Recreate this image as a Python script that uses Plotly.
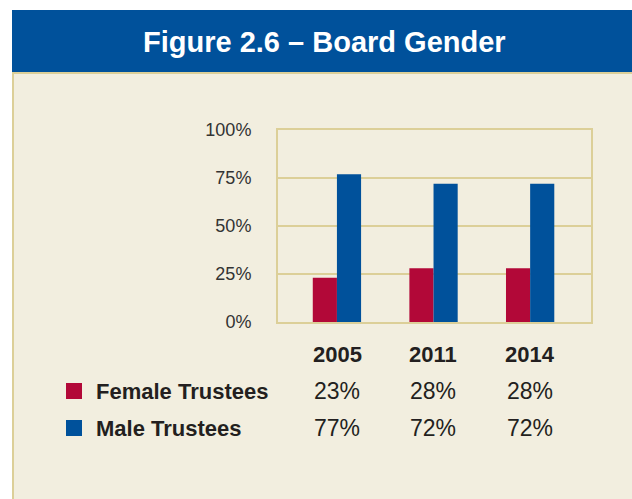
import plotly.graph_objects as go

# ---- data ----
years = ["2005", "2011", "2014"]
female = [23, 28, 28]
male = [77, 72, 72]
series_names = ["Female Trustees", "Male Trustees"]
y_ticks = [0, 25, 50, 75, 100]
y_tick_labels = ["0%", "25%", "50%", "75%", "100%"]
title_text = "Figure 2.6 – Board Gender"

# ---- styling ----
W, H = 632, 499
L, R, T, B = 278, 591, 130, 322  # plot area in pixels
BLUE = "#00519b"
RED = "#b20838"
BEIGE = "#f2eedf"
TAN = "#dccf98"
TEXT = "#231f20"
FONT = "Liberation Sans, Arial, sans-serif"


def fx(p):
    return (p - L) / (R - L)


def fy(p):
    return (B - p) / (B - T)


fig = go.Figure()
fig.add_trace(go.Bar(x=years, y=female, name=series_names[0], marker_color=RED,
                     marker_line_width=0))
fig.add_trace(go.Bar(x=years, y=male, name=series_names[1], marker_color=BLUE,
                     marker_line_width=0))

shapes = [
    # beige panel
    dict(type="rect", xref="paper", yref="paper", x0=fx(12), x1=fx(W + 5), y0=fy(72), y1=fy(H + 5),
         fillcolor=BEIGE, line_width=0, layer="below"),
    # left tan border
    dict(type="line", xref="paper", yref="paper", x0=fx(13), x1=fx(13), y0=fy(72), y1=fy(H + 5),
         line=dict(color=TAN, width=2), layer="below"),
    # tan line under header
    dict(type="line", xref="paper", yref="paper", x0=fx(12), x1=fx(W + 5), y0=fy(73), y1=fy(73),
         line=dict(color=TAN, width=2), layer="below"),
    # blue header
    dict(type="rect", xref="paper", yref="paper", x0=fx(12), x1=fx(W + 5), y0=fy(10), y1=fy(72),
         fillcolor=BLUE, line_width=0, layer="below"),
]

annotations = [
    dict(text="<b>" + title_text + "</b>", xref="paper", yref="paper", x=fx(324), y=fy(42),
         xanchor="center", yanchor="middle", showarrow=False,
         font=dict(family=FONT, size=29, color="white")),
]

# table (columns aligned with the bar groups)
col_x = [337, 433, 530]
row_header_y = 354
row_y = [391, 428]
colors = [RED, BLUE]
values = [female, male]
for i, yr in enumerate(years):
    annotations.append(dict(text="<b>" + yr + "</b>", xref="paper", yref="paper",
                            x=fx(col_x[i]), y=fy(row_header_y), xanchor="center", yanchor="middle",
                            showarrow=False, font=dict(family=FONT, size=22, color=TEXT)))
for r, name in enumerate(series_names):
    shapes.append(dict(type="rect", xref="paper", yref="paper",
                       x0=fx(66), x1=fx(82), y0=fy(row_y[r] - 8), y1=fy(row_y[r] + 8),
                       fillcolor=colors[r], line_width=0))
    annotations.append(dict(text="<b>" + name + "</b>", xref="paper", yref="paper",
                            x=fx(94), y=fy(row_y[r]), xanchor="left", yanchor="middle",
                            showarrow=False, font=dict(family=FONT, size=22, color=TEXT)))
    for i, v in enumerate(values[r]):
        annotations.append(dict(text=f"{v}%", xref="paper", yref="paper",
                                x=fx(col_x[i]), y=fy(row_y[r]), xanchor="center", yanchor="middle",
                                showarrow=False, font=dict(family=FONT, size=23, color=TEXT)))

fig.update_layout(
    width=W, height=H,
    margin=dict(l=L, r=W - R, t=T, b=H - B, pad=0),
    paper_bgcolor="white",
    plot_bgcolor="rgba(0,0,0,0)",
    barmode="group",
    bargap=0.5,
    bargroupgap=0,
    showlegend=False,
    shapes=shapes,
    annotations=annotations,
    font=dict(family=FONT, color=TEXT),
)
fig.update_xaxes(range=[-0.61, 2.63], showticklabels=False, showgrid=False,
                 showline=True, mirror=True, linecolor=TAN, linewidth=2, zeroline=False)
fig.update_yaxes(range=[0, 100], tickvals=y_ticks, ticktext=y_tick_labels,
                 showgrid=True, gridcolor=TAN, gridwidth=2,
                 showline=True, mirror=True, linecolor=TAN, linewidth=2, zeroline=False,
                 ticks="outside", ticklen=21, tickcolor="rgba(0,0,0,0)",
                 tickfont=dict(family=FONT, size=18, color="#333333"))

fig.write_html(
    "out.html",
    config={"displayModeBar": False},
    post_script="document.body.style.margin='0';document.body.style.overflow='hidden';",
)
